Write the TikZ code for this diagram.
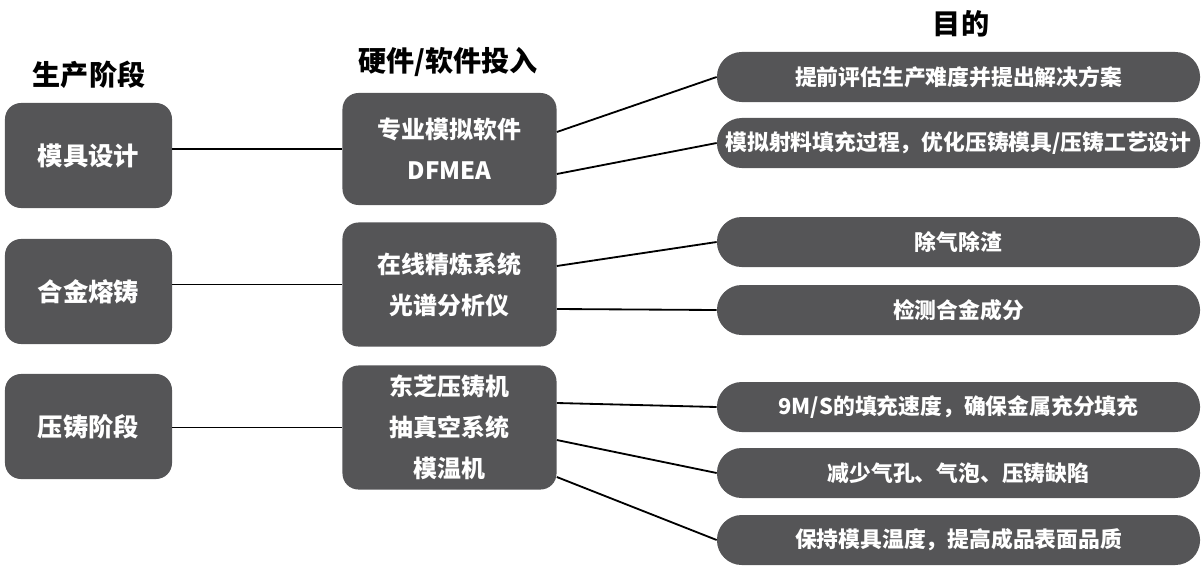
\documentclass[tikz,border=0pt]{standalone}
\usepackage{fontspec}
\newfontfamily\cjk{Noto Sans CJK SC}
\usetikzlibrary{calc}
\definecolor{boxgray}{RGB}{85,85,87}

\begin{document}
\begin{tikzpicture}[x=0.025cm, y=-0.025cm,
  stage/.style={fill=boxgray, rounded corners=0.4cm, minimum width=4.175cm, minimum height=2.625cm, text=white, font=\cjk\bfseries\fontsize{18}{22}\selectfont},
  invest/.style={fill=boxgray, rounded corners=0.4cm, minimum width=5.35cm, minimum height=3.1cm, text=white, align=center, font=\cjk\bfseries\fontsize{17}{29}\selectfont},
  goal/.style={fill=boxgray, rounded corners=0.62cm, minimum width=12.075cm, minimum height=1.25cm, text=white, font=\cjk\bfseries\fontsize{15.5}{18}\selectfont},
  head/.style={font=\cjk\bfseries\fontsize{20}{24}\selectfont},
  link/.style={line width=1.3pt}]
  \useasboundingbox (0,0) rectangle (1201,567);

  % column headings
  \node[head] (h1) at (89,75) {生产阶段};
  \node[head] (h2) at (448,62) {硬件/软件投入};
  \node[head] (h3) at (961,24) {目的};

  % stages
  \node[stage] (s1) at (88.5,155.5) {模具设计};
  \node[stage] (s2) at (88.5,291.5) {合金熔铸};
  \node[stage] (s3) at (88.5,426.5) {压铸阶段};

  % hardware / software
  \node[invest, minimum height=2.8cm] (i1) at (449.5,149) {专业模拟软件\\DFMEA};
  \node[invest] (i2) at (449.5,284.5) {在线精炼系统\\光谱分析仪};
  \node[invest] (i3) at (449.5,427.5) {东芝压铸机\\抽真空系统\\模温机};

  % goals
  \node[goal] (o1) at (958.5,77) {提前评估生产难度并提出解决方案};
  \node[goal] (o2) at (958.5,143) {模拟射料填充过程，优化压铸模具/压铸工艺设计};
  \node[goal] (o3) at (958.5,242) {除气除渣};
  \node[goal] (o4) at (958.5,310) {检测合金成分};
  \node[goal] (o5) at (958.5,407) {9M/S的填充速度，确保金属充分填充};
  \node[goal] (o6) at (958.5,473) {减少气孔、气泡、压铸缺陷};
  \node[goal] (o7) at (958.5,540) {保持模具温度，提高成品表面品质};

  \draw[link] (s1.east |- i1) -- (i1.west);
  \draw[link] (s2.east |- i2) -- (i2.west);
  \draw[link] (s3.east |- i3) -- (i3.west);

  \draw[link] ($(i1.east)+(0,-17)$) -- (o1.west);
  \draw[link] ($(i1.east)+(0,25)$) -- (o2.west);
  \draw[link] ($(i2.east)+(0,-18.5)$) -- (o3.west);
  \draw[link] ($(i2.east)+(0,24.5)$) -- (o4.west);
  \draw[link] ($(i3.east)+(0,-24.5)$) -- (o5.west);
  \draw[link] ($(i3.east)+(0,12.5)$) -- (o6.west);
  \draw[link] ($(i3.east)+(0,49.5)$) -- (o7.west);
\end{tikzpicture}
\end{document}
